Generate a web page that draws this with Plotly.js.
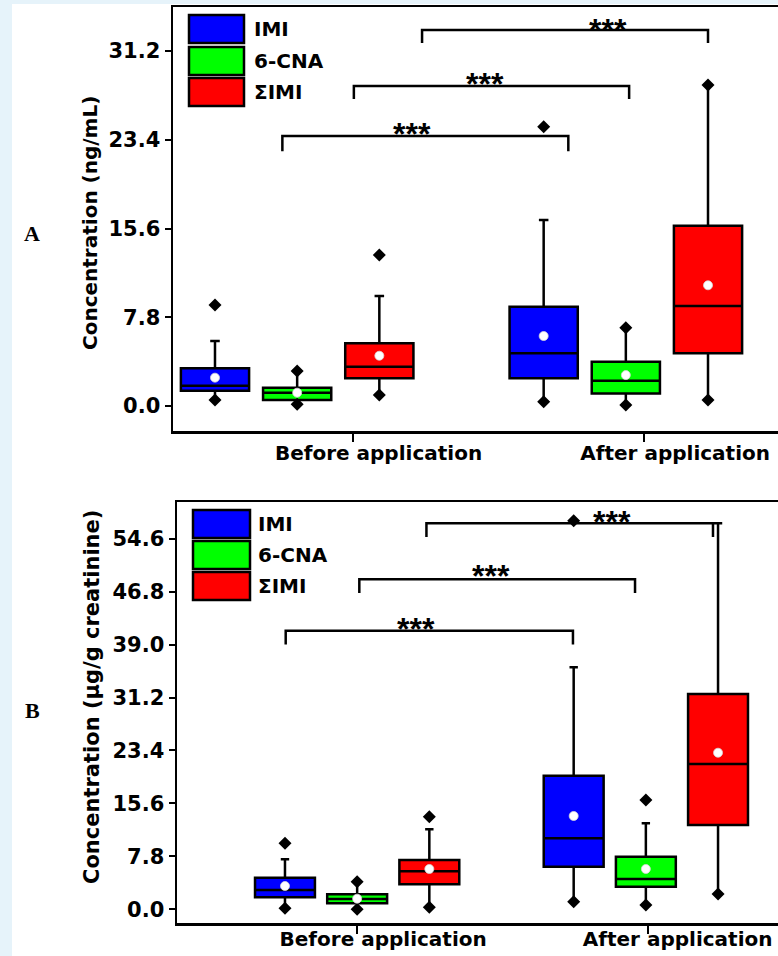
<!DOCTYPE html>
<html><head><meta charset="utf-8">
<script src="https://cdn.plot.ly/plotly-3.0.1.min.js"></script>
<style>
html,body{margin:0;padding:0;overflow:hidden;background:#e6f3fa;width:778px;height:956px}
#chart{position:absolute;left:12px;top:4px;width:790px;height:952px;background:#fff}
</style>
</head><body><div id="chart"></div>
<script>
// ---------- data ----------
const periods = ['Before application', 'After application'];
const compounds = ['IMI', '6-CNA', 'ΣIMI'];
// order of boxes: IMI, 6-CNA, ΣIMI (before), IMI, 6-CNA, ΣIMI (after)

// Panel A: Concentration (ng/mL)
const aQ1     = [1.34, 0.53, 2.43, 2.43, 1.11, 4.63];
const aMedian = [1.78, 1.17, 3.46, 4.63, 2.23, 8.79];
const aQ3     = [3.31, 1.61, 5.51, 8.73, 3.90, 15.85];
const aMean   = [2.49, 1.17, 4.42, 6.15, 2.72, 10.61];
const aUpper  = [5.71, 3.08, 9.67, 16.35, 6.88, 28.21];
const aMin    = [0.53, 0.15, 0.97, 0.38, 0.09, 0.53];
const aMax    = [8.88, 3.08, 13.27, 24.55, 6.88, 28.21];
// significance brackets A
const aSigLeft  = [1.82, 2.69, 3.52];
const aSigRight = [5.30, 6.04, 7.00];
const aSigTop   = [23.73, 28.12, 33.05];
const aSigFoot  = [22.4, 26.98, 31.9];
const aSigStarX = [3.40, 4.29, 5.78];
const aSigStarY = [24.5, 28.9, 33.66];
const aSigText  = ['***', '***', '***'];

// Panel B: Concentration (µg/g creatinine)
const bQ1     = [1.77, 0.88, 3.68, 6.28, 3.33, 12.42];
const bMedian = [2.84, 1.52, 5.60, 10.46, 4.46, 21.41];
const bQ3     = [4.66, 2.21, 7.26, 19.69, 7.75, 31.72];
const bMean   = [3.43, 1.56, 5.94, 13.75, 5.94, 23.07];
const bUpper  = [7.37, 4.07, 11.79, 35.66, 12.67, 56.87];
const bMin    = [0.15, 0.00, 0.29, 1.12, 0.63, 2.25];
const bMax    = [9.72, 4.07, 13.64, 57.26, 16.10, null];
// significance brackets B
const bSigLeft  = [1.01, 2.03, 2.96];
const bSigRight = [4.99, 5.85, 6.93];
const bSigTop   = [41.05, 48.62, 56.87];
const bSigFoot  = [39.0, 46.6, 54.85];
const bSigStarX = [2.82, 3.85, 5.53];
const bSigStarY = [42.37, 50.1, 58.07];
const bSigText  = ['***', '***', '***'];

const yTicks = [0, 7.8, 15.6, 23.4, 31.2, 39.0, 46.8, 54.6];

// ---------- styling / layout helpers ----------
const fills = ['#0000ff', '#00ff00', '#ff0000'];
const FONT = 'DejaVu Sans';
const W = 790, H = 952, OX = 12, OY = 4;
const px = x => (x - OX) / W;          // page px -> paper x
const py = y => 1 - (y - OY) / H;       // page px -> paper y

// box slot positions: period*4 + compound + 1
const slot = (p, g) => p * 4 + g + 1;

const traces = [];
const annotations = [];
const shapes = [];

function addPanel(ax, d) {
  const xa = ax === 1 ? 'x' : 'x2';
  const ya = ax === 1 ? 'y' : 'y2';
  compounds.forEach((name, g) => {
    const idx = [g, g + 3];
    traces.push({
      type: 'box', name: name, xaxis: xa, yaxis: ya,
      x: idx.map((i, p) => slot(p, g)),
      q1: idx.map(i => d.q1[i]), median: idx.map(i => d.median[i]),
      q3: idx.map(i => d.q3[i]),
      lowerfence: idx.map(i => d.min[i]), upperfence: idx.map(i => d.upper[i]),
      boxpoints: false, width: 0.83, whiskerwidth: 0.14,
      fillcolor: fills[g], line: {color: '#000', width: 2.5},
      showlegend: false, hoverinfo: 'skip'
    });
  });
  // extremes (diamonds)
  const ex = [], ey = [];
  for (let i = 0; i < 6; i++) {
    const x = slot(Math.floor(i / 3), i % 3);
    ex.push(x); ey.push(d.min[i]);
    if (d.max[i] !== null) { ex.push(x); ey.push(d.max[i]); }
  }
  traces.push({type: 'scatter', mode: 'markers', xaxis: xa, yaxis: ya, x: ex, y: ey,
    marker: {symbol: 'diamond', size: 10, color: '#000'}, showlegend: false, hoverinfo: 'skip', cliponaxis: false});
  // means
  traces.push({type: 'scatter', mode: 'markers', xaxis: xa, yaxis: ya,
    x: d.mean.map((v, i) => slot(Math.floor(i / 3), i % 3)), y: d.mean,
    marker: {symbol: 'circle', size: 9, color: '#fff', line: {color: '#d8d8d8', width: 0.8}},
    showlegend: false, hoverinfo: 'skip'});
  // brackets
  d.sigLeft.forEach((L, k) => {
    const R = d.sigRight[k];
    traces.push({type: 'scatter', mode: 'lines', xaxis: xa, yaxis: ya,
      x: [L, L, R, R], y: [d.sigFoot[k], d.sigTop[k], d.sigTop[k], d.sigFoot[k]],
      line: {color: '#000', width: 2.5}, showlegend: false, hoverinfo: 'skip', cliponaxis: false});
    annotations.push({xref: xa, yref: ya, x: d.sigStarX[k], y: d.sigStarY[k], text: d.sigText[k],
      showarrow: false, xanchor: 'center', yanchor: 'middle', yshift: -7,
      font: {family: 'Liberation Sans', size: 32, color: '#000', weight: 'bold'}});
  });
}

addPanel(1, {q1: aQ1, median: aMedian, q3: aQ3, mean: aMean, upper: aUpper, min: aMin, max: aMax,
  sigLeft: aSigLeft, sigRight: aSigRight, sigTop: aSigTop, sigFoot: aSigFoot, sigStarX: aSigStarX, sigStarY: aSigStarY, sigText: aSigText});
addPanel(2, {q1: bQ1, median: bMedian, q3: bQ3, mean: bMean, upper: bUpper, min: bMin, max: bMax,
  sigLeft: bSigLeft, sigRight: bSigRight, sigTop: bSigTop, sigFoot: bSigFoot, sigStarX: bSigStarX, sigStarY: bSigStarY, sigText: bSigText});

// custom legends
function addLegend(left, right, tops, textX) {
  compounds.forEach((name, g) => {
    const t = tops[g], b = tops[g] + 28;
    shapes.push({type: 'rect', xref: 'paper', yref: 'paper', x0: px(left), x1: px(right), y0: py(b), y1: py(t),
      fillcolor: fills[g], line: {color: '#000', width: 2.5}, layer: 'above'});
    annotations.push({xref: 'paper', yref: 'paper', x: px(textX), y: py((t + b) / 2), text: name,
      showarrow: false, xanchor: 'left', yanchor: 'middle',
      font: {family: FONT, size: 20, color: '#000', weight: 'bold'}});
  });
}
addLegend(189, 244, [15, 47, 78], 252);
addLegend(193, 250, [510, 541, 572], 256);

// axis titles and panel letters
annotations.push({xref: 'paper', yref: 'paper', x: px(90), y: py(223), text: 'Concentration (ng/mL)', textangle: -90,
  showarrow: false, xanchor: 'center', yanchor: 'middle', font: {family: FONT, size: 20, color: '#000', weight: 'bold'}});
annotations.push({xref: 'paper', yref: 'paper', x: px(92), y: py(697), text: 'Concentration (µg/g creatinine)', textangle: -90,
  showarrow: false, xanchor: 'center', yanchor: 'middle', font: {family: FONT, size: 21, color: '#000', weight: 'bold'}});
annotations.push({xref: 'paper', yref: 'paper', x: px(32), y: py(233), text: 'A', showarrow: false,
  xanchor: 'center', yanchor: 'middle', font: {family: 'Liberation Serif', size: 22, color: '#000', weight: 'bold'}});
annotations.push({xref: 'paper', yref: 'paper', x: px(32), y: py(710), text: 'B', showarrow: false,
  xanchor: 'center', yanchor: 'middle', font: {family: 'Liberation Serif', size: 22, color: '#000', weight: 'bold'}});

const tickFont = {family: FONT, size: 21, color: '#000', weight: 'bold'};
const xTickFont = {family: FONT, size: 20, color: '#000', weight: 'bold'};
function xAxis(domain, range, labelPos, tickPos, anchor, standoff) {
  return {domain, range, anchor, showgrid: false, zeroline: false,
    showline: true, linecolor: '#000', linewidth: 2.5, mirror: true,
    tickmode: 'array', tickvals: labelPos, ticktext: periods, ticks: '',
    ticklabelstandoff: standoff, tickfont: xTickFont,
    minor: {tickmode: 'array', tickvals: tickPos, ticks: 'outside', ticklen: 8, tickwidth: 2, tickcolor: '#000', showgrid: false}};
}
function yAxis(domain, range, anchor, vals) {
  return {domain, range, anchor, showgrid: false, zeroline: false,
    showline: true, linecolor: '#000', linewidth: 2.5, mirror: true,
    tickmode: 'array', tickvals: vals, ticktext: vals.map(v => v.toFixed(1)),
    ticks: 'outside', ticklen: 6, tickwidth: 2, tickcolor: '#000', tickfont: tickFont};
}

const layout = {
  width: W, height: H, margin: {l: 0, r: 0, t: 0, b: 0},
  paper_bgcolor: '#fff', plot_bgcolor: '#fff', hovermode: false,
  font: {family: FONT, color: '#000'},
  xaxis: xAxis([px(173), px(797)], [0.489, 8.083], [2.99, 6.60], [2.68, 6.22], 'y', 2),
  yaxis: yAxis([py(431), py(7)], [-2.197, 35.07], 'x', yTicks.slice(0, 5)),
  xaxis2: xAxis([px(177), px(797)], [-0.496, 8.094], [2.36, 6.44], [2.0, 6.03], 'y2', -4),
  yaxis2: yAxis([py(923), py(502)], [-2.02, 60.01], 'x2', yTicks),
  shapes, annotations, showlegend: false
};

Plotly.newPlot('chart', traces, layout, {staticPlot: true, displayModeBar: false});
</script>
</body></html>
